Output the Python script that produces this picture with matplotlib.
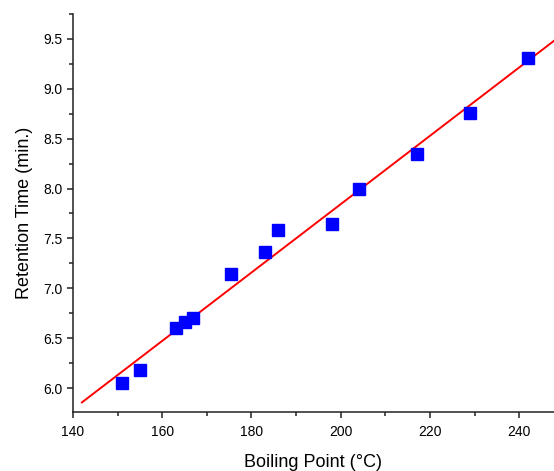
import numpy as np
import matplotlib
matplotlib.use("Agg")
import matplotlib.pyplot as plt
from matplotlib.ticker import MultipleLocator

plt.rcParams['font.family'] = ['Liberation Sans', 'DejaVu Sans']

boiling_point = [151, 155, 163, 165, 167, 175.5, 183, 186, 198, 204, 217, 229, 242]
retention_time = [6.05, 6.18, 6.60, 6.66, 6.70, 7.14, 7.36, 7.58, 7.64, 8.00, 8.35, 8.76, 9.31]
fit_x = [142, 248]

fig = plt.figure(figsize=(5.54, 4.71), dpi=100)
ax = fig.add_axes([73/554, 59/471, 1 - 73/554, (412-14)/471])

slope, intercept = np.polyfit(boiling_point, retention_time, 1)
fx = np.array(fit_x)
ax.plot(fx, slope*fx + intercept, color='#ff0000', lw=1.4, zorder=2)
ax.plot(boiling_point, retention_time, linestyle='none', marker='s', ms=8.3,
        color='#0000ff', mec='#0000ff', zorder=3)

ax.set_xlim(140, 247.8)
ax.set_ylim(5.76, 9.75)
ax.xaxis.set_major_locator(MultipleLocator(20))
ax.xaxis.set_minor_locator(MultipleLocator(10))
ax.yaxis.set_major_locator(MultipleLocator(0.5))
ax.yaxis.set_minor_locator(MultipleLocator(0.25))
ax.yaxis.set_major_formatter(matplotlib.ticker.FormatStrFormatter('%.1f'))

for s in ['top', 'right']:
    ax.spines[s].set_visible(False)
for s in ['left', 'bottom']:
    ax.spines[s].set_linewidth(1.1)
    ax.spines[s].set_color('#222222')

ax.tick_params(which='major', direction='out', length=4, width=1.1, labelsize=10, color='#222222')
ax.tick_params(axis='x', which='major', pad=5)
ax.tick_params(which='minor', direction='out', length=3, width=1.1, color='#222222')

ax.set_xlabel('Boiling Point (°C)', fontsize=13, labelpad=11)
ax.set_ylabel('Retention Time (min.)', fontsize=13, labelpad=7.5)

fig.savefig('out.png', dpi=100)
